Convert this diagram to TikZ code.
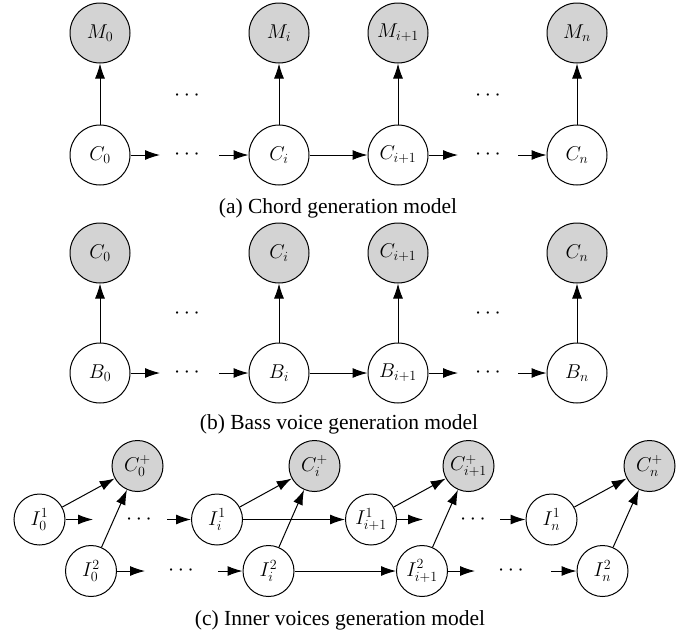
\RequirePackage{fix-cm}
\documentclass[tikz,border=0pt]{standalone}
\usepackage{fontspec}
\setmainfont{Liberation Serif}
\usetikzlibrary{arrows.meta}
\definecolor{obsgray}{RGB}{211,211,211}
\tikzset{
  big/.style={circle, draw, line width=1pt, minimum size=60pt, inner sep=0pt, font=\fontsize{20}{24}\selectfont},
  small/.style={circle, draw, line width=1pt, minimum size=51pt, inner sep=0pt, font=\fontsize{20}{24}\selectfont},
  obs/.style={fill=obsgray},
  hid/.style={fill=white},
  edge/.style={line width=1pt, -{Latex[length=15pt,width=10pt]}},
  dotsnode/.style={inner sep=0pt, font=\fontsize{22}{26}\selectfont},
  captext/.style={font=\fontsize{21.5}{25}\selectfont, inner sep=0pt}
}
\begin{document}
\begin{tikzpicture}[x=1pt,y=-1pt]
\useasboundingbox (0,0) rectangle (693,635);
% ---------- (a)
\node[big,obs] (aM0) at (100,33) {$M_0$};
\node[big,obs] (aMi) at (279,33) {$M_i$};
\node[big,obs] (aMj) at (398,33) {$M_{i+1}$};
\node[big,obs] (aMn) at (577,33) {$M_n$};
\node[big,hid] (aC0) at (100,155) {$C_0$};
\node[big,hid] (aCi) at (279,155) {$C_i$};
\node[big,hid] (aCj) at (398,155) {$C_{i+1}$};
\node[big,hid] (aCn) at (577,155) {$C_n$};
\node[dotsnode] (ad1) at (187,96) {$\cdots$};
\node[dotsnode] (ad2) at (488,96) {$\cdots$};
\node[dotsnode] (ad3) at (187,155) {$\cdots$};
\node[dotsnode] (ad4) at (488,155) {$\cdots$};
\coordinate (aa1) at (160,155);
\coordinate (aa2) at (219,155);
\coordinate (aa3) at (458,155);
\coordinate (aa4) at (518,155);
\draw[edge] (aC0) -- (aM0);
\draw[edge] (aCi) -- (aMi);
\draw[edge] (aCj) -- (aMj);
\draw[edge] (aCn) -- (aMn);
\draw[edge] (aC0) -- (aa1);
\draw[edge] (aa2) -- (aCi);
\draw[edge] (aCi) -- (aCj);
\draw[edge] (aCj) -- (aa3);
\draw[edge] (aa4) -- (aCn);
\node[captext] (capa) at (338,208) {(a) Chord generation model};
% ---------- (b)
\node[big,obs] (bC0) at (100,253) {$C_0$};
\node[big,obs] (bCi) at (279,253) {$C_i$};
\node[big,obs] (bCj) at (398,253) {$C_{i+1}$};
\node[big,obs] (bCn) at (577,253) {$C_n$};
\node[big,hid] (bB0) at (100,373) {$B_0$};
\node[big,hid] (bBi) at (279,373) {$B_i$};
\node[big,hid] (bBj) at (398,373) {$B_{i+1}$};
\node[big,hid] (bBn) at (577,373) {$B_n$};
\node[dotsnode] (bd1) at (187,314) {$\cdots$};
\node[dotsnode] (bd2) at (488,314) {$\cdots$};
\node[dotsnode] (bd3) at (187,373) {$\cdots$};
\node[dotsnode] (bd4) at (488,373) {$\cdots$};
\coordinate (ba1) at (160,373);
\coordinate (ba2) at (219,373);
\coordinate (ba3) at (458,373);
\coordinate (ba4) at (518,373);
\draw[edge] (bB0) -- (bC0);
\draw[edge] (bBi) -- (bCi);
\draw[edge] (bBj) -- (bCj);
\draw[edge] (bBn) -- (bCn);
\draw[edge] (bB0) -- (ba1);
\draw[edge] (ba2) -- (bBi);
\draw[edge] (bBi) -- (bBj);
\draw[edge] (bBj) -- (ba3);
\draw[edge] (ba4) -- (bBn);
\node[captext] (capb) at (339,424) {(b) Bass voice generation model};
% ---------- (c)
\node[small,obs] (cC0) at (137.5,466) {$C_0^+$};
\node[small,obs] (cCi) at (314.5,466) {$C_i^+$};
\node[small,obs] (cCj) at (468.5,466) {$C_{i+1}^+$};
\node[small,obs] (cCn) at (649.5,466) {$C_n^+$};
\node[small,hid] (cA0) at (39.5,519.5) {$I_0^1$};
\node[small,hid] (cAi) at (217,519.5) {$I_i^1$};
\node[small,hid] (cAj) at (371,519.5) {$I_{i+1}^1$};
\node[small,hid] (cAn) at (551.5,519.5) {$I_n^1$};
\node[small,hid] (cB0) at (91,571) {$I_0^2$};
\node[small,hid] (cBi) at (268.5,571) {$I_i^2$};
\node[small,hid] (cBj) at (422,571) {$I_{i+1}^2$};
\node[small,hid] (cBn) at (602.5,571) {$I_n^2$};
\node[dotsnode] (cd1) at (139,519.5) {$\cdots$};
\node[dotsnode] (cd2) at (473,519.5) {$\cdots$};
\node[dotsnode] (cd3) at (181,571) {$\cdots$};
\node[dotsnode] (cd4) at (511,571) {$\cdots$};
\coordinate (ca1) at (93,519.5);
\coordinate (ca2) at (167,519.5);
\coordinate (ca3) at (423,519.5);
\coordinate (ca4) at (500,519.5);
\coordinate (cb1) at (145,571);
\coordinate (cb2) at (218,571);
\coordinate (cb3) at (475,571);
\coordinate (cb4) at (551,571);
\draw[edge] (cA0) -- (cC0);
\draw[edge] (cB0) -- (cC0);
\draw[edge] (cAi) -- (cCi);
\draw[edge] (cBi) -- (cCi);
\draw[edge] (cAj) -- (cCj);
\draw[edge] (cBj) -- (cCj);
\draw[edge] (cAn) -- (cCn);
\draw[edge] (cBn) -- (cCn);
\draw[edge] (cA0) -- (ca1);
\draw[edge] (ca2) -- (cAi);
\draw[edge] (cAi) -- (cAj);
\draw[edge] (cAj) -- (ca3);
\draw[edge] (ca4) -- (cAn);
\draw[edge] (cB0) -- (cb1);
\draw[edge] (cb2) -- (cBi);
\draw[edge] (cBi) -- (cBj);
\draw[edge] (cBj) -- (cb3);
\draw[edge] (cb4) -- (cBn);
\node[captext] (capc) at (340,620) {(c) Inner voices generation model};
\end{tikzpicture}
\end{document}
